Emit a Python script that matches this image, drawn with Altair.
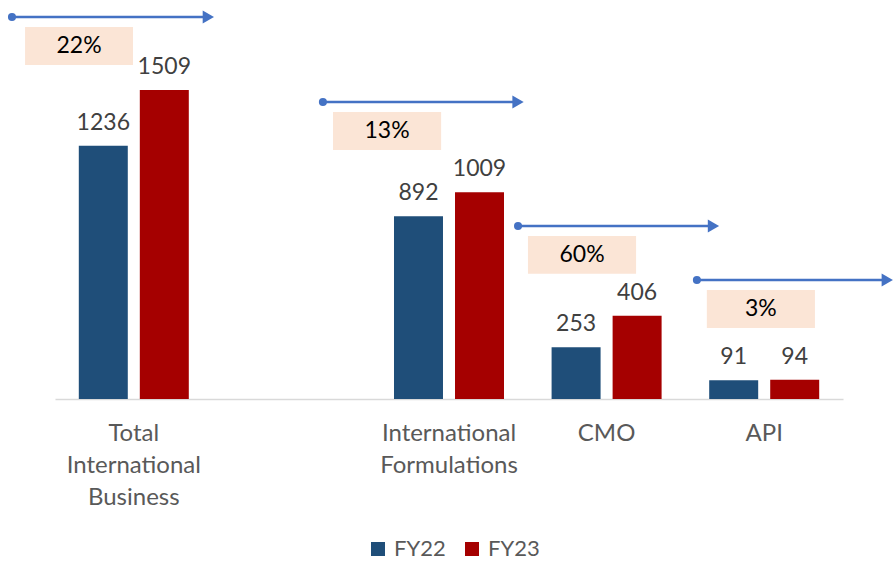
import altair as alt
import pandas as pd

# ---- data ----
categories = ["Total International Business", " ", "International Formulations", "CMO", "API"]
bar_categories = ["Total International Business", "International Formulations", "CMO", "API"]
fy22 = [1236, 892, 253, 91]
fy23 = [1509, 1009, 406, 94]
series = ["FY22", "FY23"]
growth_labels = ["22%", "13%", "60%", "3%"]
# annotation geometry in data units (category index units on x, value units on y)
cat_index = [0, 2, 3, 4]
arrow_start = [-0.773, -0.80, -0.562, -0.427]
arrow_end = [0.515, 0.48, 0.72, 0.823]
box_start = [-0.69, -0.736, -0.499, -0.364]
box_end = [-0.005, -0.05, 0.187, 0.322]
arrow_level = [1865, 1450, 845, 581]

colors = ["#1F4E79", "#A50000"]
FONT = "Lato"

rows = []
for c, a, b in zip(bar_categories, fy22, fy23):
    rows.append({"cat": c, "series": "FY22", "value": a})
    rows.append({"cat": c, "series": "FY23", "value": b})
bars_df = pd.DataFrame(rows)

ann_rows = []
for i in range(len(growth_labels)):
    ann_rows.append({
        "label": growth_labels[i],
        "xs": cat_index[i] + arrow_start[i],
        "xe": cat_index[i] + arrow_end[i],
        "bs": cat_index[i] + box_start[i],
        "be": cat_index[i] + box_end[i],
        "lvl": arrow_level[i],
    })
ann_df = pd.DataFrame(ann_rows)

yscale = alt.Scale(domain=[0, 1948], nice=False, zero=True)
xband_scale = alt.Scale(domain=categories, paddingInner=0.302, paddingOuter=0.151)
xoff = alt.XOffset("series:N", scale=alt.Scale(paddingInner=0.197, paddingOuter=0))

bars = alt.Chart(bars_df).mark_bar().encode(
    x=alt.X(
        "cat:N",
        sort=categories,
        scale=xband_scale,
        axis=alt.Axis(
            title=None,
            labelAngle=0,
            labelExpr="split(datum.value, ' ')",
            labelFont=FONT,
            labelFontSize=24,
            labelColor="#595959",
            labelLineHeight=32,
            labelPadding=22,
            labelBaseline="top",
            ticks=False,
            domainColor="#D9D9D9",
            domainWidth=1.5,
            grid=False,
        ),
    ),
    xOffset=xoff,
    y=alt.Y("value:Q", scale=yscale, axis=None),
    color=alt.Color(
        "series:N",
        scale=alt.Scale(domain=series, range=colors),
        legend=alt.Legend(
            title=None,
            orient="none",
            direction="horizontal",
            legendX=312,
            legendY=538,
            symbolType="square",
            symbolSize=196,
            symbolStrokeWidth=0,
            labelFont=FONT,
            labelFontSize=22,
            labelColor="#595959",
            labelOffset=5,
            columnPadding=15,
            padding=0,
        ),
    ),
)

values = alt.Chart(bars_df).mark_text(
    baseline="bottom", dy=-11, font=FONT, fontSize=23, color="#404040"
).encode(
    x=alt.X("cat:N", sort=categories, scale=xband_scale, axis=None),
    xOffset=xoff,
    y=alt.Y("value:Q", scale=yscale, axis=None),
    text="value:Q",
)

xq = alt.Scale(domain=[-0.5, 4.5], nice=False, zero=False)
ann = alt.Chart(ann_df)

boxes = ann.transform_calculate(
    top="datum.lvl - 49", bot="datum.lvl - 234"
).mark_rect(color="#FBE5D6").encode(
    x=alt.X("bs:Q", scale=xq, axis=None),
    x2="be:Q",
    y=alt.Y("top:Q", scale=yscale, axis=None),
    y2="bot:Q",
)

gtext = ann.transform_calculate(
    mid="(datum.bs + datum.be) / 2", ty="datum.lvl - 142"
).mark_text(font=FONT, fontSize=23, color="#000000", baseline="middle").encode(
    x=alt.X("mid:Q", scale=xq, axis=None),
    y=alt.Y("ty:Q", scale=yscale, axis=None),
    text="label:N",
)

lines = ann.transform_calculate(xl="datum.xe - 0.06").mark_rule(
    color="#4472C4", strokeWidth=2.5
).encode(
    x=alt.X("xs:Q", scale=xq, axis=None),
    x2="xl:Q",
    y=alt.Y("lvl:Q", scale=yscale, axis=None),
)

dots = ann.mark_point(filled=True, shape="circle", size=65, color="#4472C4", opacity=1).encode(
    x=alt.X("xs:Q", scale=xq, axis=None),
    y=alt.Y("lvl:Q", scale=yscale, axis=None),
)

heads = ann.transform_calculate(xh="datum.xe - 0.042").mark_point(
    filled=True, shape="triangle-right", size=170, color="#4472C4", opacity=1
).encode(
    x=alt.X("xh:Q", scale=xq, axis=None),
    y=alt.Y("lvl:Q", scale=yscale, axis=None),
)

chart = (
    alt.layer(bars, values, boxes, gtext, lines, dots, heads)
    .resolve_scale(x="independent")
    .properties(
        width=788,
        height=399,
        background="white",
        autosize=alt.AutoSizeParams(type="none"),
        padding={"left": 55, "top": 0, "right": 51, "bottom": 162},
    )
    .configure_view(strokeWidth=0, stroke="transparent")
)

chart.save("out.html", embed_options={"renderer": "svg", "actions": False})
